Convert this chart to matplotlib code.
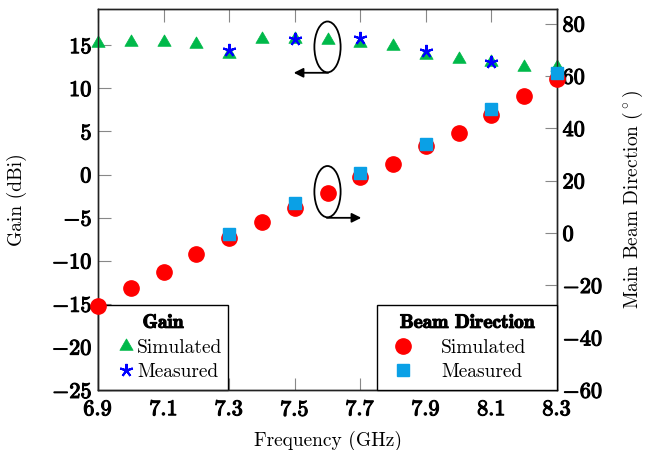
import numpy as np
import matplotlib
matplotlib.use("Agg")
import matplotlib.pyplot as plt
import matplotlib.patheffects as pe
from matplotlib.patches import Ellipse
from matplotlib.ticker import FuncFormatter, MultipleLocator
from matplotlib.font_manager import FontProperties

plt.rcParams["font.family"] = "cmr10"
plt.rcParams["mathtext.fontset"] = "cm"
plt.rcParams["axes.formatter.use_mathtext"] = True

# ── Data ──────────────────────────────────────────────────────────────────────
FREQ      = [6.9, 7.0, 7.1, 7.2, 7.3, 7.4, 7.5, 7.6, 7.7, 7.8, 7.9, 8.0, 8.1, 8.2, 8.3]
GAIN_SIM  = [15.3, 15.4, 15.4, 15.1, 14.0, 15.7, 15.7, 15.6, 15.3, 14.9, 13.9, 13.4, 13.1, 12.5, 12.5]
BEAM_SIM  = [-28.0, -21.0, -15.0, -8.0, -2.0, 4.3, 9.4, 15.4, 21.3, 26.3, 33.2, 38.3, 45.2, 52.3, 59.0]

GAIN_MEAS_F = [7.3, 7.5, 7.7, 7.9, 8.1]
GAIN_MEAS   = [14.4, 15.7, 15.8, 14.3, 13.1]

BEAM_MEAS_F = [7.3, 7.5, 7.7, 7.9, 8.1, 8.3]
BEAM_MEAS   = [-0.4, 11.3, 22.8, 34.2, 47.4, 61.0]

X_TICKS = [6.9, 7.1, 7.3, 7.5, 7.7, 7.9, 8.1, 8.3]

GREEN = "#00B94A"
BLUE  = "#0000FF"
RED   = "#FF0000"
CYAN  = "#0AA0E6"

# equilateral triangle centred on its centroid (pgfplots style)
TRI = [(0, 0.577), (-0.5, -0.289), (0.5, -0.289), (0, 0.577)]

bold_fmt = FuncFormatter(lambda v, p: r"$\mathbf{%g}$" % round(v, 2))

fig = plt.figure(figsize=(6.45, 4.5), dpi=100)
ax = fig.add_axes([98 / 645, 60 / 450, 459 / 645, 381 / 450])
ax2 = ax.twinx()

# left axis: gain
ax.plot(FREQ, GAIN_SIM, ls="none", marker=TRI, ms=11, color=GREEN, mec=GREEN, mew=0.5,
        clip_on=False, zorder=3, label="Simulated")
ax.plot(GAIN_MEAS_F, GAIN_MEAS, ls="none", marker=(5, 2, 0), ms=9.5, mew=1.5,
        color=BLUE, clip_on=False, zorder=4, label="Measured")

# right axis: beam direction
ax2.plot(FREQ, BEAM_SIM, ls="none", marker="o", ms=11, color=RED, mec=RED,
         clip_on=False, zorder=3, label="Simulated")
ax2.plot(BEAM_MEAS_F, BEAM_MEAS, ls="none", marker="s", ms=8, color=CYAN, mec=CYAN,
         clip_on=False, zorder=4, label="Measured")

ax.set_xlim(6.9, 8.3)
ax.set_ylim(-25, 19.2)
ax2.set_ylim(-60, 85.6)
ax.set_xticks(X_TICKS)
ax.yaxis.set_major_locator(MultipleLocator(5))
ax2.yaxis.set_major_locator(MultipleLocator(20))
for a in (ax, ax2):
    a.xaxis.set_major_formatter(bold_fmt)
    a.yaxis.set_major_formatter(bold_fmt)
    for s in a.spines.values():
        s.set_linewidth(1.0)
        s.set_color("#222222")

ax.tick_params(axis="both", direction="in", length=9, width=0.8, color="#888888",
               labelsize=16, top=True, pad=4)
ax.tick_params(axis="x", pad=7)
ax2.tick_params(axis="y", direction="in", length=9, width=0.8, color="#888888",
                labelsize=16, pad=4)

# thicken the bold tick labels
stroke = [pe.withStroke(linewidth=0.8, foreground="black")]
for lab in ax.get_xticklabels() + ax.get_yticklabels() + ax2.get_yticklabels():
    lab.set_path_effects(stroke)

ax.set_xlabel("Frequency (GHz)", fontsize=14, labelpad=8)
ax.set_ylabel("Gain (dBi)", fontsize=14)
ax2.set_ylabel(r"Main Beam Direction $(^\circ)$", fontsize=14)
ax.yaxis.set_label_coords(-0.155, 0.5)
ax2.yaxis.set_label_coords(1.139, 0.5)

# annotations: ellipse + arrow pointing to the relevant axis
ax.add_patch(Ellipse((7.6, 14.8), 0.08, 5.9, fill=False, ec="black", lw=1.3, zorder=5))
ax.annotate("", xy=(7.497, 11.8), xytext=(7.602, 11.8),
            arrowprops=dict(arrowstyle="-|>", color="black", lw=1.3,
                            mutation_scale=14, shrinkA=0, shrinkB=0))
ax2.add_patch(Ellipse((7.6, 15.8), 0.08, 19.6, fill=False, ec="black", lw=1.3, zorder=5))
ax2.annotate("", xy=(7.703, 5.8), xytext=(7.598, 5.8),
             arrowprops=dict(arrowstyle="-|>", color="black", lw=1.3,
                             mutation_scale=14, shrinkA=0, shrinkB=0))

# legends
title_fp = FontProperties(family="cmb10", size=14)
leg1 = ax.legend(loc="lower left", bbox_to_anchor=(0, 0, 130 / 459, 0.2), mode="expand",
                 title="Gain", title_fontproperties=title_fp,
                 fontsize=14, frameon=True, fancybox=False, edgecolor="black",
                 framealpha=1, borderaxespad=0, handlelength=2.0, handletextpad=-0.43,
                 labelspacing=0.35, borderpad=0.45)
leg1.get_frame().set_linewidth(1.0)
leg1.get_title().set_path_effects(stroke)

leg2 = ax2.legend(loc="lower right", bbox_to_anchor=(279 / 459, 0, 180 / 459, 0.2), mode="expand",
                  title="Beam Direction", title_fontproperties=title_fp,
                  fontsize=14, frameon=True, fancybox=False, edgecolor="black",
                  framealpha=1, borderaxespad=0, handlelength=1.78, handletextpad=1.07,
                  labelspacing=0.35, borderpad=0.45)
leg2.get_frame().set_linewidth(1.0)
leg2.get_title().set_path_effects(stroke)

plt.savefig("out.png", dpi=100)
